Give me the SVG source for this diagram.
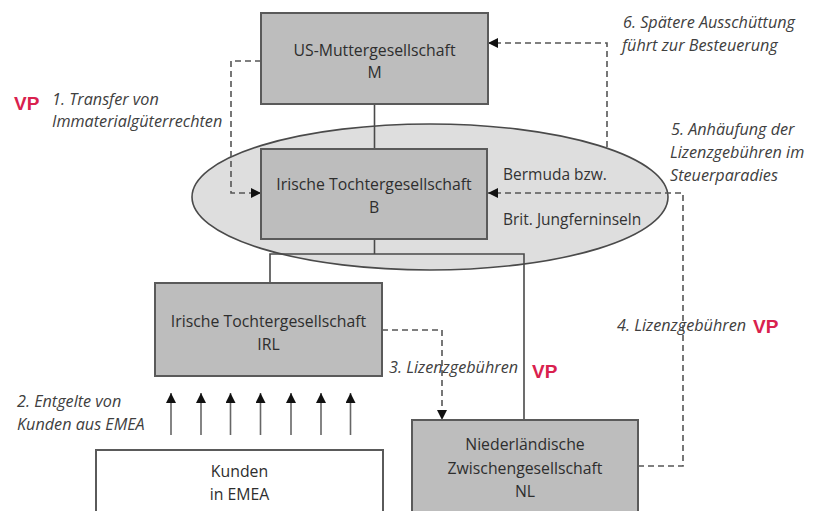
<svg xmlns="http://www.w3.org/2000/svg" width="818" height="511" viewBox="0 0 818 511">
<defs>
<marker id="ah" viewBox="0 0 10 10" refX="10" refY="5" markerWidth="10" markerHeight="10" markerUnits="userSpaceOnUse" orient="auto">
<path d="M0,0 L10,5 L0,10 z" fill="#111"/>
</marker>
</defs>
<style>
.box{fill:#bdbdbd;stroke:#5a5a5a;stroke-width:2}
.wbox{fill:#ffffff;stroke:#5a5a5a;stroke-width:2}
.ell{fill:#dedede;stroke:#4a4a4a;stroke-width:1.6}
.solid{fill:none;stroke:#4a4a4a;stroke-width:1.6}
.dash{fill:none;stroke:#555;stroke-width:1.6;stroke-dasharray:6 4}
.arr{fill:none;stroke:#666;stroke-width:1.6}
.bt{font-family:"Open Sans","Noto Sans",sans-serif;font-size:15.8px;fill:#2e2e2e;text-anchor:middle}
.rt{font-family:"Open Sans","Noto Sans",sans-serif;font-size:15.5px;fill:#333}
.lbl{font-family:"Open Sans","Noto Sans",sans-serif;font-size:16.2px;font-style:italic;fill:#404040}
.vp{font-family:"Liberation Sans",Arial,sans-serif;font-size:19px;font-weight:bold;fill:#d9214e}
</style>

<g id="ellipse-steuerparadies">
<ellipse class="ell" cx="430" cy="197" rx="238" ry="73"/>
</g>

<g id="connectors">
<path class="solid" d="M374.5 104 V149"/>
<path class="solid" d="M374.5 239 V254"/>
<path class="solid" d="M270 283 V254 H524 V420"/>
<path class="dash" d="M261 61 H231 V193 H261" marker-end="url(#ah)"/>
<path class="dash" d="M607 147 V43 H488" marker-end="url(#ah)"/>
<path class="dash" d="M638 466 H683 V193 H488" marker-end="url(#ah)"/>
<path class="dash" d="M382 330 H442 V420" marker-end="url(#ah)"/>
<path class="arr" d="M171 435 V393" marker-end="url(#ah)"/>
<path class="arr" d="M201 435 V393" marker-end="url(#ah)"/>
<path class="arr" d="M230.5 435 V393" marker-end="url(#ah)"/>
<path class="arr" d="M260.5 435 V393" marker-end="url(#ah)"/>
<path class="arr" d="M291 435 V393" marker-end="url(#ah)"/>
<path class="arr" d="M321 435 V393" marker-end="url(#ah)"/>
<path class="arr" d="M350.5 435 V393" marker-end="url(#ah)"/>
</g>

<g id="node-M">
<rect class="box" x="261" y="13" width="227" height="91"/>
<text class="bt" x="374.5" y="56">US-Muttergesellschaft</text>
<text class="bt" x="374.5" y="78">M</text>
</g>

<g id="node-B">
<rect class="box" x="261" y="149" width="226" height="90"/>
<text class="bt" x="374" y="190">Irische Tochtergesellschaft</text>
<text class="bt" x="374" y="213">B</text>
</g>

<g id="node-IRL">
<rect class="box" x="155" y="283" width="227" height="93"/>
<text class="bt" x="268.5" y="327">Irische Tochtergesellschaft</text>
<text class="bt" x="268.5" y="350">IRL</text>
</g>

<g id="node-Kunden">
<rect class="wbox" x="96" y="450" width="287" height="70"/>
<text class="bt" x="239.5" y="477">Kunden</text>
<text class="bt" x="239.5" y="500">in EMEA</text>
</g>

<g id="node-NL">
<rect class="box" x="412" y="420" width="226" height="100"/>
<text class="bt" x="525" y="450">Niederländische</text>
<text class="bt" x="525" y="474">Zwischengesellschaft</text>
<text class="bt" x="525" y="497">NL</text>
</g>

<g id="labels">
<text class="vp" x="14" y="110">VP</text>
<text class="lbl" x="52" y="105">1. Transfer von</text>
<text class="lbl" x="52" y="127">Immaterialgüterrechten</text>
<text class="lbl" x="623" y="28">6. Spätere Ausschüttung</text>
<text class="lbl" x="622" y="51">führt zur Besteuerung</text>
<text class="lbl" x="671" y="135">5. Anhäufung der</text>
<text class="lbl" x="670" y="158">Lizenzgebühren im</text>
<text class="lbl" x="670" y="181">Steuerparadies</text>
<text class="rt" x="503" y="180">Bermuda bzw.</text>
<text class="rt" x="503" y="225">Brit. Jungferninseln</text>
<text class="lbl" x="17" y="407">2. Entgelte von</text>
<text class="lbl" x="17" y="430">Kunden aus EMEA</text>
<text class="lbl" x="389" y="373">3. Lizenzgebühren</text>
<text class="vp" x="532" y="378">VP</text>
<text class="lbl" x="617" y="331">4. Lizenzgebühren</text>
<text class="vp" x="753" y="333">VP</text>
</g>
</svg>
